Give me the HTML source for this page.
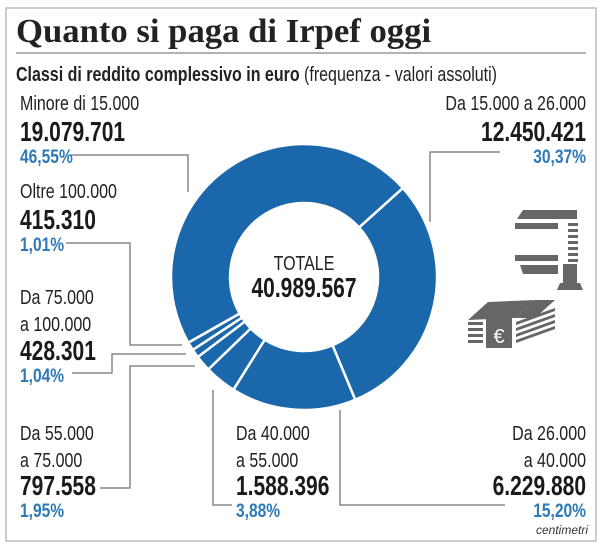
<!DOCTYPE html>
<html><head><meta charset="utf-8"><style>
body{margin:0;background:#fff;width:602px;height:548px;overflow:hidden}
svg text{font-family:"Liberation Sans",sans-serif;transform-box:fill-box;transform-origin:left center}
.e text,text.e{transform-origin:right center}
text.m{transform-origin:center center}
.l{font-size:20px;fill:#222;transform:scaleX(.8)}
.v{font-size:28px;font-weight:bold;fill:#1a1a1a;transform:scaleX(.75)}
.p{font-size:19px;fill:#2e7ab8;font-weight:bold;transform:scaleX(.82)}
.ld{stroke:#888;stroke-width:1.5;fill:none}
</style></head><body>
<svg id="c" width="602" height="548">
<rect x="6" y="8" width="590" height="533" fill="none" stroke="#bbb" stroke-width="1.5"/>
<text x="16" y="42" style="font-family:'Liberation Serif',serif;font-size:34px;font-weight:bold;fill:#222;transform:scaleX(1.02)">Quanto si paga di Irpef oggi</text>
<line x1="16" y1="53" x2="586" y2="53" stroke="#999" stroke-width="1.5"/>
<text x="16" y="81" style="font-size:20px;fill:#222;transform:scaleX(.8)"><tspan font-weight="bold">Classi di reddito complessivo in euro</tspan> (frequenza - valori assoluti)</text>
<g id="pie"></g>
<text x="304" y="270" text-anchor="middle" class="l m">TOTALE</text>
<text x="304" y="297" text-anchor="middle" class="v m">40.989.567</text>
<g>
<polyline class="ld" points="70,155 188,155 188,192"/>
<polyline class="ld" points="500,152 430,152 430,222"/>
<polyline class="ld" points="66,243 130,243 130,345 182,345"/>
<polyline class="ld" points="72,373 112,373 112,354 186,354"/>
<polyline class="ld" points="195,366 130,366 130,488 100,488"/>
<polyline class="ld" points="213,390 213,505 232,505"/>
<polyline class="ld" points="340,410 340,505 505,505"/>
</g>
<g><text x="20" y="110" class="l">Minore di 15.000</text><text x="20" y="141" class="v">19.079.701</text><text x="20" y="163" class="p">46,55%</text></g>
<g class="e" text-anchor="end"><text x="586" y="110" class="l">Da 15.000 a 26.000</text><text x="586" y="141" class="v">12.450.421</text><text x="586" y="163" class="p">30,37%</text></g>
<g><text x="20" y="198" class="l">Oltre 100.000</text><text x="20" y="229" class="v">415.310</text><text x="20" y="251" class="p">1,01%</text></g>
<g><text x="20" y="304" class="l">Da 75.000</text><text x="20" y="331" class="l">a 100.000</text><text x="20" y="360" class="v">428.301</text><text x="20" y="382" class="p">1,04%</text></g>
<g><text x="20" y="440" class="l">Da 55.000</text><text x="20" y="467" class="l">a 75.000</text><text x="20" y="495" class="v">797.558</text><text x="20" y="517" class="p">1,95%</text></g>
<g><text x="236" y="440" class="l">Da 40.000</text><text x="236" y="467" class="l">a 55.000</text><text x="236" y="495" class="v">1.588.396</text><text x="236" y="517" class="p">3,88%</text></g>
<g class="e" text-anchor="end"><text x="586" y="440" class="l">Da 26.000</text><text x="586" y="467" class="l">a 40.000</text><text x="586" y="495" class="v">6.229.880</text><text x="586" y="517" class="p">15,20%</text></g>
<text x="588" y="534" text-anchor="end" class="e" style="font-size:12px;fill:#333;font-style:italic">centimetri</text>
<g fill="#666">
<polygon points="523,210 577,210 577,219 517,219"/>
<rect x="515" y="223" width="43" height="6"/>
<rect x="568" y="223" width="10" height="3"/><rect x="568" y="229" width="10" height="3"/><rect x="568" y="235" width="10" height="3"/><rect x="568" y="241" width="10" height="3"/><rect x="568" y="247" width="10" height="3"/><rect x="568" y="253" width="10" height="3"/><rect x="568" y="259" width="10" height="3"/>
<rect x="515" y="255" width="43" height="6"/>
<polygon points="520,265 558,265 558,274 523,274"/>
<rect x="563" y="264" width="14" height="20"/>
<polygon points="560,283 580,283 583,290 557,290"/>
<polygon points="468,320 488,302 535,300 515,318"/>
<polygon points="515,318 535,300 555,300 535,318"/>
<rect x="468" y="322" width="15" height="3"/><rect x="468" y="328" width="15" height="3"/><rect x="468" y="334" width="15" height="3"/><rect x="468" y="340" width="15" height="3"/>
<rect x="486" y="318" width="26" height="30"/>
<polygon points="516,322 555,308 555,311 516,325"/><polygon points="516,328 555,314 555,317 516,331"/><polygon points="516,334 555,320 555,323 516,337"/><polygon points="516,340 555,326 555,329 516,343"/>
<text x="499" y="343" text-anchor="middle" class="m" style="font-size:20px;fill:#fff">€</text>
</g>
</svg>
<script>
const categories=["Da 15.000 a 26.000","Da 26.000 a 40.000","Da 40.000 a 55.000","Da 55.000 a 75.000","Da 75.000 a 100.000","Oltre 100.000","Minore di 15.000"];
const values=[12450421,6229880,1588396,797558,428301,415310,19079701];
const cx=304,cy=277,R=133,r=74,start=48;
const g=document.getElementById('pie');
const tot=values.reduce((a,b)=>a+b,0);
function pt(a,rad){const t=a*Math.PI/180;return [cx+rad*Math.sin(t),cy-rad*Math.cos(t)];}
let a=start;
values.forEach((v,i)=>{
 const sw=v/tot*360,b=a+sw,lg=sw>180?1:0;
 const p1=pt(a,R),p2=pt(b,R),p3=pt(b,r),p4=pt(a,r);
 const p=document.createElementNS('http://www.w3.org/2000/svg','path');
 p.setAttribute('d',`M${p1}A${R},${R} 0 ${lg} 1 ${p2}L${p3}A${r},${r} 0 ${lg} 0 ${p4}Z`);
 p.setAttribute('fill','#1a67ab');p.setAttribute('stroke','#fff');p.setAttribute('stroke-width','2.5');
 
 
 g.appendChild(p);a=b;
});
</script>
</body></html>
